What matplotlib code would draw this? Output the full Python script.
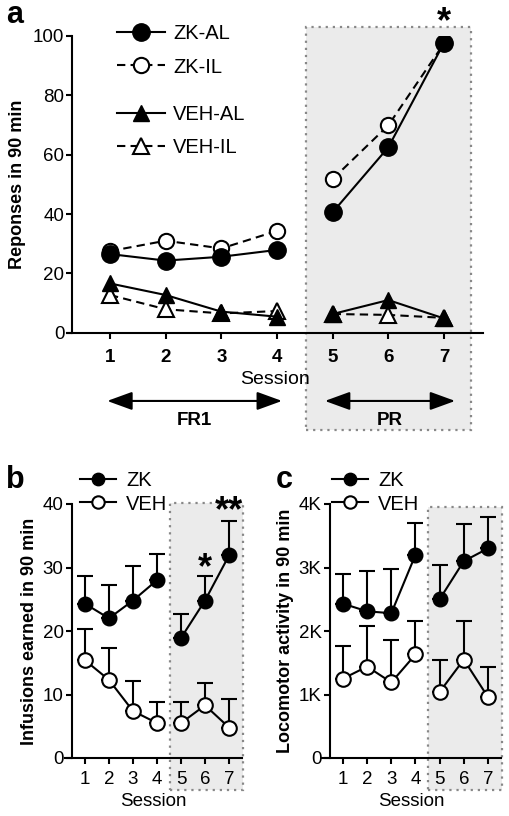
import numpy as np
import matplotlib
matplotlib.use("Agg")
import matplotlib.pyplot as plt
from matplotlib.patches import Rectangle
from matplotlib.ticker import FuncFormatter

plt.rcParams['font.family'] = ['Liberation Sans', 'DejaVu Sans']

# panel a - responses in 90 min
sessions = [1, 2, 3, 4, 5, 6, 7]
zk_al = [26.5, 24.3, 25.6, 27.9, 40.6, 62.5, 97.7]
zk_il = [27.5, 31.0, 28.4, 34.3, 51.8, 69.9, 97.5]
veh_al = [16.6, 12.7, 7.1, 5.4, 6.3, 11.0, 4.8]
veh_il = [12.7, 7.9, 6.5, 7.3, 6.3, 6.0, 5.0]

# panel b - infusions earned (mean, top of error bar)
inf_zk = [24.3, 22.0, 24.8, 28.0, 18.9, 24.8, 31.9]
inf_zk_top = [28.7, 27.2, 30.2, 32.2, 22.7, 28.6, 37.3]
inf_veh = [15.4, 12.3, 7.4, 5.5, 5.5, 8.3, 4.8]
inf_veh_top = [20.3, 17.4, 12.2, 8.8, 8.8, 11.8, 9.3]

# panel c - locomotor activity
loc_zk = [2430, 2310, 2280, 3200, 2500, 3100, 3300]
loc_zk_top = [2900, 2950, 2980, 3700, 3040, 3680, 3800]
loc_veh = [1250, 1440, 1190, 1630, 1040, 1550, 960]
loc_veh_top = [1770, 2080, 1860, 2150, 1550, 2150, 1440]

FS = 13.5
fig = plt.figure(figsize=(5.09, 8.16), dpi=100)

def px(x0, y0, x1, y1):
    # axes box from pixel corners (top-left origin)
    return [x0 / 509, 1 - y1 / 816, (x1 - x0) / 509, (y1 - y0) / 816]

def style_axes(ax, spine_x):
    for s in ['top', 'right']:
        ax.spines[s].set_visible(False)
    ax.spines['left'].set_position(('data', spine_x))
    for s in ['left', 'bottom']:
        ax.spines[s].set_linewidth(1.5)
    ax.tick_params(direction='out', length=4, width=1.5, labelsize=FS)

def shade(ax, x0, x1, y0, y1):
    r = Rectangle((x0, y0), x1 - x0, y1 - y0, facecolor='#ebebeb',
                  edgecolor='#888888', linestyle=(0, (1, 2.2)), linewidth=1.6,
                  clip_on=False, zorder=0)
    ax.add_patch(r)

def two_seg(ax, x, y, **kw):
    x = np.array(x); y = np.array(y)
    ax.plot(x[:4], y[:4], **kw)
    kw.pop('label', None)
    ax.plot(x[4:], y[4:], **kw)

dash = (0, (4, 2.5))

# ---------------- panel a ----------------
axa = fig.add_axes(px(67, 36, 483, 332.7))
axa.set_xlim(0.228, 7.70)
axa.set_ylim(0, 100)
style_axes(axa, 0.32)
shade(axa, 4.52, 7.48, -32.8, 103)
two_seg(axa, sessions, zk_il, color='k', lw=1.5, ls=dash, marker='o', ms=11,
        mfc='white', mew=1.5, label='ZK-IL', zorder=3)
two_seg(axa, sessions, zk_al, color='k', lw=1.5, marker='o', ms=12.5,
        label='ZK-AL', zorder=4)
two_seg(axa, sessions, veh_il, color='k', lw=1.5, ls=dash, marker='^', ms=11,
        mfc='white', mew=1.5, label='VEH-IL', zorder=3)
two_seg(axa, sessions, veh_al, color='k', lw=1.5, marker='^', ms=12,
        label='VEH-AL', zorder=4)
axa.set_xticks(sessions)
axa.set_xticklabels([str(s) for s in sessions], fontweight='bold')
axa.tick_params(axis='x', pad=8)
axa.tick_params(axis='y', pad=1.5)
axa.set_yticks([0, 20, 40, 60, 80, 100])
axa.set_xlabel('Session', fontsize=FS + 0.5, labelpad=3)
axa.set_ylabel('Reponses in 90 min', fontsize=13, fontweight='bold', labelpad=5)
axa.text(7, 98.5, '*', ha='center', va='bottom', fontsize=26, fontweight='bold')

arrow = dict(arrowstyle='<|-|>,head_length=1.1,head_width=0.4', color='k',
             lw=1.5, shrinkA=0, shrinkB=0, mutation_scale=14)
blend = ('data', 'axes fraction')
axa.annotate('', xy=(0.95, -0.23), xytext=(4.09, -0.23), xycoords=blend,
             textcoords=blend, arrowprops=arrow)
axa.annotate('', xy=(4.86, -0.23), xytext=(7.2, -0.23), xycoords=blend,
             textcoords=blend, arrowprops=arrow)
axa.text(2.52, -0.295, 'FR1', transform=axa.get_xaxis_transform(), ha='center',
         va='center', fontsize=FS, fontweight='bold')
axa.text(6.03, -0.295, 'PR', transform=axa.get_xaxis_transform(), ha='center',
         va='center', fontsize=FS, fontweight='bold')

h, l = axa.get_legend_handles_labels()
hd = dict(zip(l, h))
leg_kw = dict(frameon=False, fontsize=FS + 1, handlelength=2.4, handletextpad=0.4,
              labelspacing=0.7, borderpad=0, borderaxespad=0, loc='center left',
              bbox_transform=fig.transFigure)
leg1 = axa.legend([hd['ZK-AL'], hd['ZK-IL']], ['ZK-AL', 'ZK-IL'],
                  bbox_to_anchor=(117 / 509, 1 - 50.5 / 816), **leg_kw)
axa.add_artist(leg1)
axa.legend([hd['VEH-AL'], hd['VEH-IL']], ['VEH-AL', 'VEH-IL'],
           bbox_to_anchor=(117 / 509, 1 - 131 / 816), **leg_kw)

# ---------------- panels b and c ----------------
def small_panel(rect, xlim, spine_x, zk, zk_top, veh, veh_top, ymax, box):
    ax = fig.add_axes(rect)
    ax.set_xlim(*xlim)
    ax.set_ylim(0, ymax)
    style_axes(ax, spine_x)
    shade(ax, *box)
    x = np.array(sessions)
    for m, t in [(zk, zk_top), (veh, veh_top)]:
        m = np.array(m); t = np.array(t)
        ax.errorbar(x, m, yerr=[np.zeros_like(m), t - m], fmt='none', ecolor='k',
                    elinewidth=1.5, capsize=6, capthick=1.5, zorder=2)
    two_seg(ax, x, zk, color='k', lw=1.5, marker='o', ms=10.5, label='ZK', zorder=4)
    two_seg(ax, x, veh, color='k', lw=1.5, marker='o', ms=10.5, mfc='white',
            mew=1.5, label='VEH', zorder=3)
    ax.set_xticks(sessions)
    ax.tick_params(axis='x', pad=5)
    ax.tick_params(axis='y', pad=2)
    ax.set_xlabel('Session', fontsize=FS, labelpad=4)
    return ax

axb = small_panel(px(65, 504, 242, 758), (0.17, 7.54), 0.46, inf_zk, inf_zk_top,
                  inf_veh, inf_veh_top, 40, (4.54, 7.58, -5.0, 40.2))
axb.set_yticks([0, 10, 20, 30, 40])
axb.set_ylabel('Infusions earned in 90 min', fontsize=13, fontweight='bold', labelpad=3)
axb.text(6, 27.0, '*', ha='center', va='bottom', fontsize=26, fontweight='bold')
axb.text(7, 36.0, '**', ha='center', va='bottom', fontsize=26, fontweight='bold',
         clip_on=False)

axc = small_panel(px(322, 504, 501, 758), (0.131, 7.54), 0.462, loc_zk, loc_zk_top,
                  loc_veh, loc_veh_top, 4000, (4.5, 7.58, -500, 3950))
axc.set_yticks([0, 1000, 2000, 3000, 4000])
axc.yaxis.set_major_formatter(FuncFormatter(lambda v, p: '0' if v == 0 else '%dK' % (v / 1000)))
axc.set_ylabel('Locomotor activity in 90 min', fontsize=13, fontweight='bold', labelpad=3)

small_leg = dict(frameon=False, fontsize=FS + 1, handlelength=1.8, handletextpad=0.5,
                 labelspacing=0.2, borderpad=0, borderaxespad=0, loc='center left',
                 bbox_transform=fig.transFigure, markerscale=0.85)
axb.legend(bbox_to_anchor=(80 / 509, 1 - 492.5 / 816), **small_leg)
axc.legend(bbox_to_anchor=(332 / 509, 1 - 492.5 / 816), **small_leg)

# panel letters
fig.text(6 / 509, 1 - 23 / 816, 'a', fontsize=22, fontweight='bold', va='baseline')
fig.text(6 / 509, 1 - 488 / 816, 'b', fontsize=22, fontweight='bold', va='baseline')
fig.text(276 / 509, 1 - 488 / 816, 'c', fontsize=22, fontweight='bold', va='baseline')

fig.savefig('out.png', dpi=100)
